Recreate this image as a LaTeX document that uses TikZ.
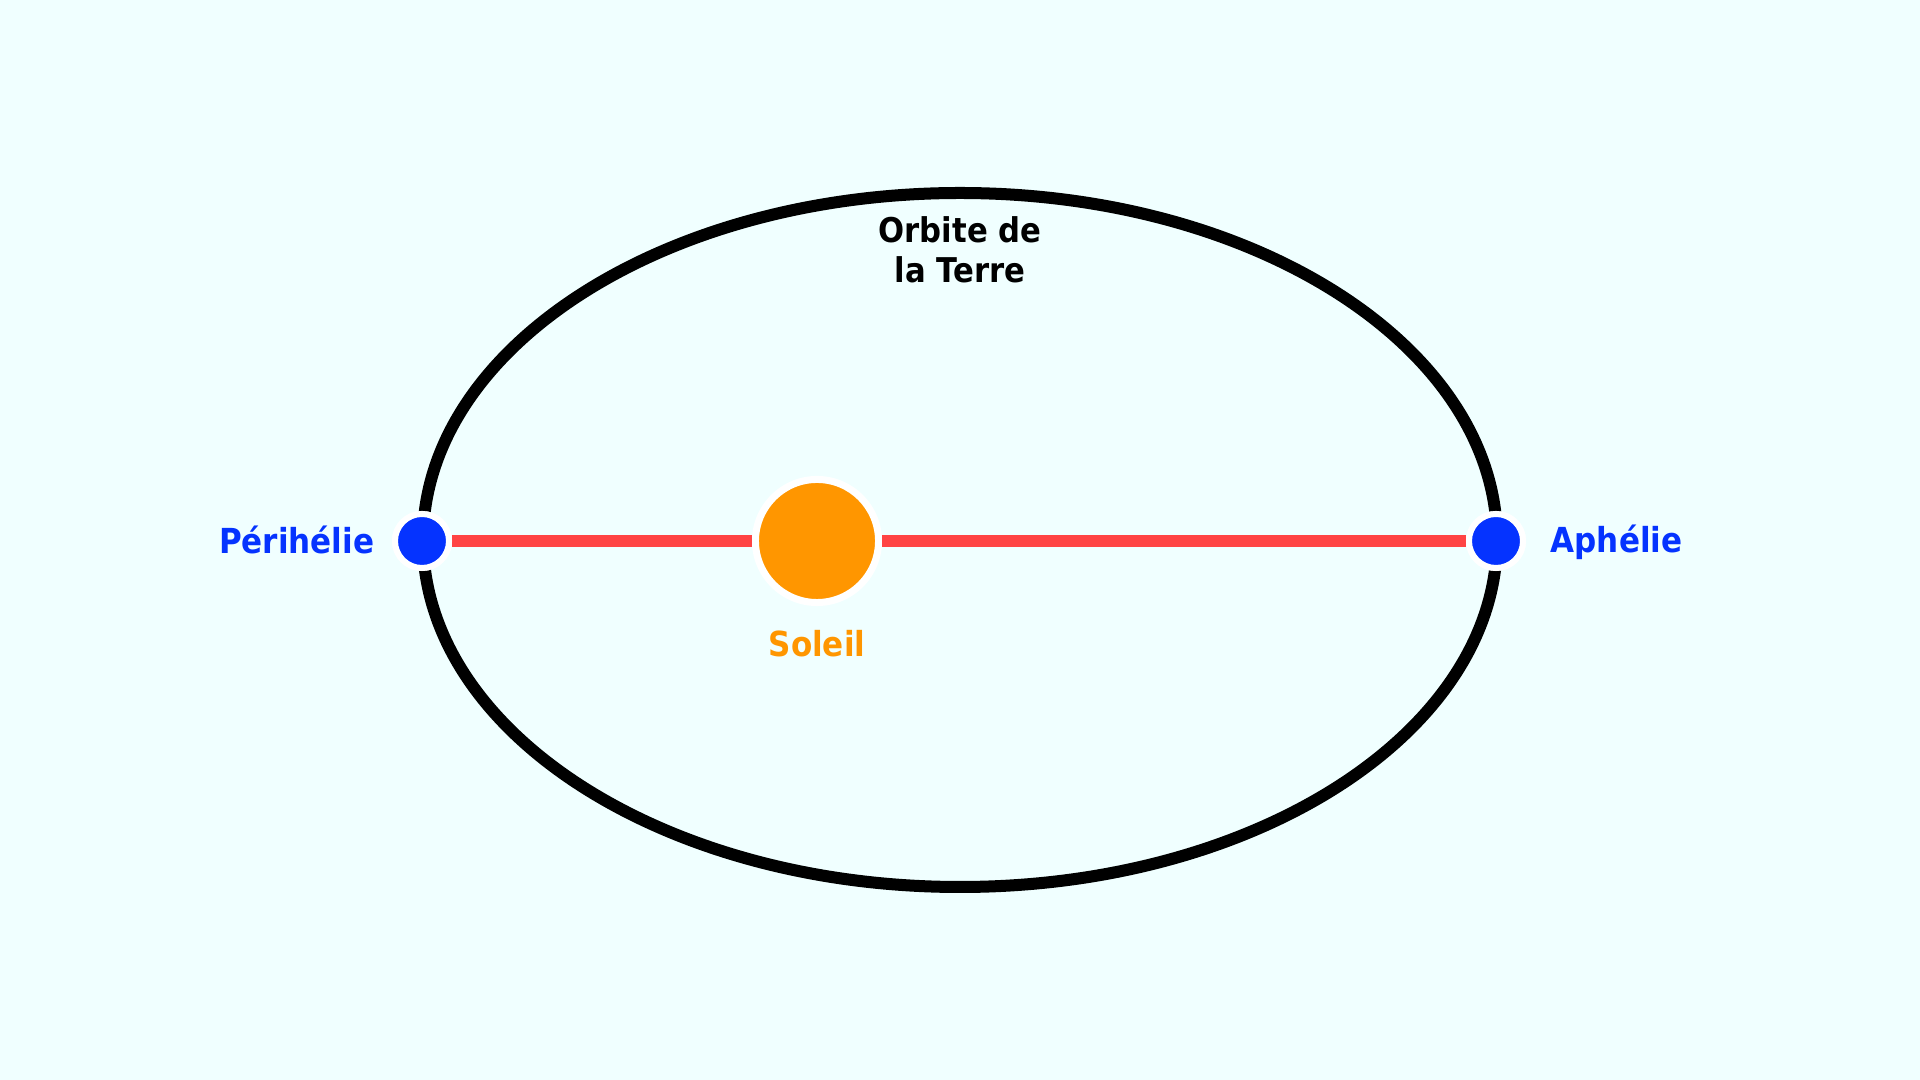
\documentclass[tikz,border=0pt]{standalone}
\usepackage{fontspec}
\setmainfont{DejaVu Sans Condensed}[BoldFont={DejaVu Sans Condensed Bold}]
\usepackage{tikz}
\usetikzlibrary{positioning}
\definecolor{skyback}{RGB}{240,255,255}
\definecolor{dotblue}{RGB}{5,51,255}
\definecolor{sunorange}{RGB}{255,150,0}
\definecolor{axisred}{RGB}{255,68,68}
\tikzstyle{ApsisNode}=[circle, fill=dotblue, draw=white, line width=0.06cm, minimum size=0.54cm, inner sep=0pt]
\tikzstyle{SunNode}=[circle, fill=sunorange, draw=white, line width=0.07cm, minimum size=1.23cm, inner sep=0pt]
\tikzstyle{Label}=[font=\bfseries\fontsize{9.8}{12}\selectfont, inner sep=0pt]

\begin{document}
\begin{tikzpicture}[x=0.01cm, y=-0.01cm, node distance={0.2cm}]
      \useasboundingbox[fill=skyback] (0,0) rectangle (1920,1080);
      \draw[line width=0.12cm] (960,540) ellipse [x radius=537, y radius=347];
      \node[ApsisNode] (peri) at (422,541) {};
      \node[ApsisNode] (aph) at (1496,541) {};
      \node[SunNode] (sun) at (817,541) {};
      \draw[axisred, line width=0.115cm] (peri) -- (sun);
      \draw[axisred, line width=0.115cm] (sun) -- (aph);
      \node[ApsisNode] at (peri) {};
      \node[ApsisNode] at (aph) {};
      \node[Label, text=dotblue] (perilabel) [left=0.17cm of peri, yshift=0.01cm] {Périhélie};
      \node[Label, text=dotblue] (aphlabel) [right=0.24cm of aph, yshift=-0.01cm] {Aphélie};
      \node[Label, text=sunorange, anchor=base] (sunlabel) at (817,657) {Soleil};
      \node[Label, font=\bfseries\fontsize{9.7}{11.4}\selectfont, align=center, anchor=base] (orbit) at (960,283) {Orbite de\\la Terre};
    \end{tikzpicture}
\end{document}
